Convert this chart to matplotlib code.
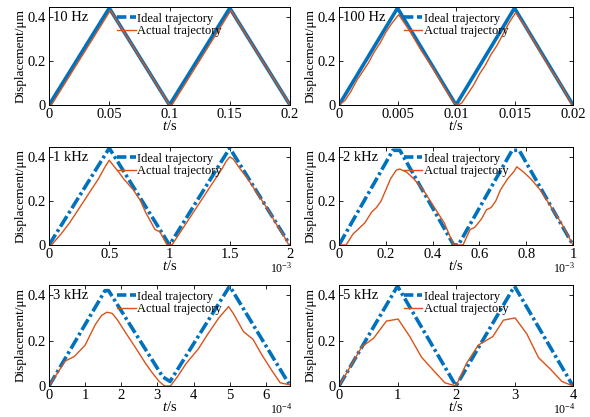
import matplotlib
matplotlib.use("Agg")
import matplotlib.pyplot as plt
from matplotlib.lines import Line2D

plt.rcParams['font.family'] = ['Liberation Serif', 'DejaVu Serif']
plt.rcParams['mathtext.fontset'] = 'custom'
plt.rcParams['mathtext.rm'] = 'Liberation Serif'
plt.rcParams['mathtext.it'] = 'Liberation Serif:italic'

BLUE = '#0072BD'
ORANGE = '#D95319'

# ---- data ----
titles = ['10 Hz', '100 Hz', '1 kHz', '2 kHz', '3 kHz', '5 kHz']

ideal_t_10 = [0, 0.05, 0.1, 0.15, 0.2]
ideal_y_10 = [0, 0.44, 0, 0.44, 0]
actual_t_10 = [0, 0.002, 0.051, 0.1, 0.102, 0.151, 0.2]
actual_y_10 = [0, 0, 0.43, 0.0, 0, 0.43, 0]

ideal_t_100 = [0, 0.005, 0.01, 0.015, 0.02]
ideal_y_100 = [0, 0.44, 0, 0.44, 0]
actual_t_100 = [0, 0.0005, 0.001, 0.0015, 0.002, 0.0025, 0.003, 0.0035, 0.004, 0.0045,
                0.0051, 0.006, 0.007, 0.008, 0.009, 0.0098, 0.0102,
                0.0105, 0.011, 0.0115, 0.012, 0.0125, 0.013, 0.0135, 0.014, 0.0145,
                0.0151, 0.016, 0.017, 0.018, 0.019, 0.0199]
actual_y_100 = [0, 0.02, 0.06, 0.11, 0.15, 0.19, 0.24, 0.28, 0.33, 0.37,
                0.41, 0.34, 0.25, 0.17, 0.08, 0.01, 0.0,
                0.01, 0.05, 0.09, 0.14, 0.18, 0.23, 0.27, 0.32, 0.37,
                0.42, 0.35, 0.26, 0.17, 0.09, 0.0]

ideal_t_1k = [0, 0.5, 1.0, 1.5, 2.0]
ideal_y_1k = [0, 0.44, 0, 0.44, 0]
actual_t_1k = [0, 0.02, 0.1, 0.17, 0.23, 0.29, 0.35, 0.41, 0.46, 0.5, 0.55, 0.58, 0.62,
               0.7, 0.76, 0.8, 0.85, 0.88, 0.92, 0.96, 0.98,
               1.02, 1.08, 1.14, 1.2, 1.26, 1.32, 1.38, 1.44, 1.47, 1.5, 1.53, 1.58,
               1.65, 1.71, 1.77, 1.83, 1.88, 1.94, 1.99]
actual_y_1k = [0, 0.0, 0.05, 0.1, 0.15, 0.2, 0.25, 0.3, 0.35, 0.385, 0.35, 0.33, 0.30,
               0.25, 0.2, 0.15, 0.1, 0.07, 0.06, 0.02, 0.0,
               0.0, 0.05, 0.1, 0.15, 0.2, 0.25, 0.3, 0.35, 0.38, 0.40, 0.39, 0.35,
               0.3, 0.25, 0.2, 0.15, 0.1, 0.05, 0.0]

ideal_t_2k = [0, 0.23, 0.26, 0.49, 0.51, 0.74, 0.77, 1.0]
ideal_y_2k = [0, 0.43, 0.43, 0, 0, 0.43, 0.43, 0]
actual_t_2k = [0, 0.03, 0.06, 0.09, 0.11, 0.14, 0.16, 0.18, 0.2, 0.22, 0.245, 0.26, 0.29,
               0.32, 0.36, 0.39, 0.42, 0.45, 0.47, 0.49, 0.53, 0.56, 0.58, 0.61, 0.63,
               0.65, 0.67, 0.69, 0.72, 0.745, 0.76, 0.79, 0.82, 0.86, 0.89, 0.92, 0.95,
               0.975, 1.0]
actual_y_2k = [0, 0, 0.05, 0.08, 0.1, 0.15, 0.17, 0.2, 0.25, 0.3, 0.34, 0.345, 0.33,
               0.3, 0.25, 0.2, 0.15, 0.1, 0.05, 0.0, 0.0, 0.07, 0.08, 0.12, 0.16,
               0.17, 0.2, 0.25, 0.3, 0.33, 0.355, 0.33, 0.3, 0.25, 0.2, 0.15, 0.1,
               0.05, 0.0]

ideal_t_3k = [0, 1.55, 1.65, 3.15, 3.35, 5.0, 6.64]
ideal_y_3k = [0, 0.42, 0.42, 0.04, 0.02, 0.44, 0.01]
actual_t_3k = [0, 0.45, 0.7, 1.0, 1.28, 1.45, 1.6, 1.75, 1.9, 2.1, 2.39, 2.67, 2.85,
               3.05, 3.2, 3.36, 3.55, 3.8, 4.14, 4.4, 4.7, 4.97, 5.1, 5.38, 5.65, 5.88,
               6.16, 6.4, 6.67]
actual_y_3k = [0, 0.11, 0.13, 0.18, 0.27, 0.31, 0.325, 0.32, 0.29, 0.24, 0.17, 0.1, 0.06,
               0.02, 0.0, 0.0, 0.04, 0.1, 0.165, 0.23, 0.3, 0.35, 0.32, 0.24, 0.205, 0.14,
               0.07, 0.014, 0.005]

ideal_t_5k = [0, 1.0, 2.0, 3.0, 4.0]
ideal_y_5k = [0, 0.44, 0, 0.44, 0]
actual_t_5k = [0, 0.39, 0.59, 0.81, 1.01, 1.21, 1.41, 1.61, 1.81, 2.0,
               2.18, 2.38, 2.63, 2.81, 3.01, 3.21, 3.41, 3.61, 3.81, 4.0]
actual_y_5k = [0, 0.173, 0.21, 0.286, 0.295, 0.218, 0.127, 0.07, 0.014, 0.0,
               0.1, 0.18, 0.218, 0.29, 0.30, 0.23, 0.125, 0.075, 0.02, 0.0]

xticks = [[0, 0.05, 0.1, 0.15, 0.2], [0, 0.005, 0.01, 0.015, 0.02],
          [0, 0.5, 1, 1.5, 2], [0, 0.2, 0.4, 0.6, 0.8, 1],
          [0, 1, 2, 3, 4, 5, 6], [0, 1, 2, 3, 4]]
xticklabels = [['0', '0.05', '0.1', '0.15', '0.2'], ['0', '0.005', '0.01', '0.015', '0.02'],
               ['0', '0.5', '1', '1.5', '2'], ['0', '0.2', '0.4', '0.6', '0.8', '1'],
               ['0', '1', '2', '3', '4', '5', '6'], ['0', '1', '2', '3', '4']]
xlims = [(0, 0.2), (0, 0.02), (0, 2), (0, 1), (0, 6.67), (0, 4)]
exponents = [None, None, '10$^{-3}$', '10$^{-3}$', '10$^{-4}$', '10$^{-4}$']
yticks = [0, 0.2, 0.4]
yticklabels = ['0', '0.2', '0.4']

ideal = [(ideal_t_10, ideal_y_10), (ideal_t_100, ideal_y_100), (ideal_t_1k, ideal_y_1k),
         (ideal_t_2k, ideal_y_2k), (ideal_t_3k, ideal_y_3k), (ideal_t_5k, ideal_y_5k)]
actual = [(actual_t_10, actual_y_10), (actual_t_100, actual_y_100), (actual_t_1k, actual_y_1k),
          (actual_t_2k, actual_y_2k), (actual_t_3k, actual_y_3k), (actual_t_5k, actual_y_5k)]

# ---- layout ----
fig = plt.figure(figsize=(5.9, 4.17), dpi=100)
W, H = 590, 417
cols = [(49, 290), (339, 573)]
rows = [(7, 105), (147, 245), (285, 386)]

dashdot = (0, (3.4, 0.9, 0.8, 0.9))

for i in range(6):
    r, c = divmod(i, 2)
    x0, x1 = cols[c]
    y0, y1 = rows[r]
    ax = fig.add_axes([x0 / W, 1 - y1 / H, (x1 - x0) / W, (y1 - y0) / H])
    it, iy = ideal[i]
    at, ay = actual[i]
    ls = '-' if r == 0 else dashdot
    ax.plot(it, iy, color=BLUE, lw=2.6, linestyle=ls, solid_capstyle='butt')
    ax.plot(at, ay, color=ORANGE, lw=1.0)
    ax.set_xlim(*xlims[i])
    ax.set_ylim(0, 0.445)
    ax.set_xticks(xticks[i])
    ax.set_xticklabels(xticklabels[i])
    ax.set_yticks(yticks)
    ax.set_yticklabels(yticklabels)
    ax.tick_params(direction='in', top=True, right=True, labelsize=10.5, length=3,
                   width=0.6, pad=2)
    for s in ax.spines.values():
        s.set_linewidth(0.7)
    ax.set_ylabel('Displacement/μm', fontsize=9.5, labelpad=1)
    ax.set_xlabel('$\\it{t}$/s', fontsize=10.5, labelpad=-1)
    ax.text(0.015, 0.96, titles[i], transform=ax.transAxes, ha='left', va='top',
            fontsize=10.5)
    if exponents[i]:
        off = 23.5 / (y1 - y0)
        ax.text(1.01, -off, exponents[i], transform=ax.transAxes, ha='right',
                va='center', fontsize=8.5)
    handles = [Line2D([], [], color=BLUE, lw=2.6, linestyle=(0, (2.6, 1.0))),
               Line2D([], [], color=ORANGE, lw=1.0)]
    ax.legend(handles, ['Ideal trajectory', 'Actual trajectory'], loc='upper center',
              bbox_to_anchor=(0.5, 1.03), frameon=False, fontsize=9,
              handlelength=1.5, handletextpad=0.1, labelspacing=0.05, borderpad=0.2)

fig.savefig('out.png', dpi=100)
